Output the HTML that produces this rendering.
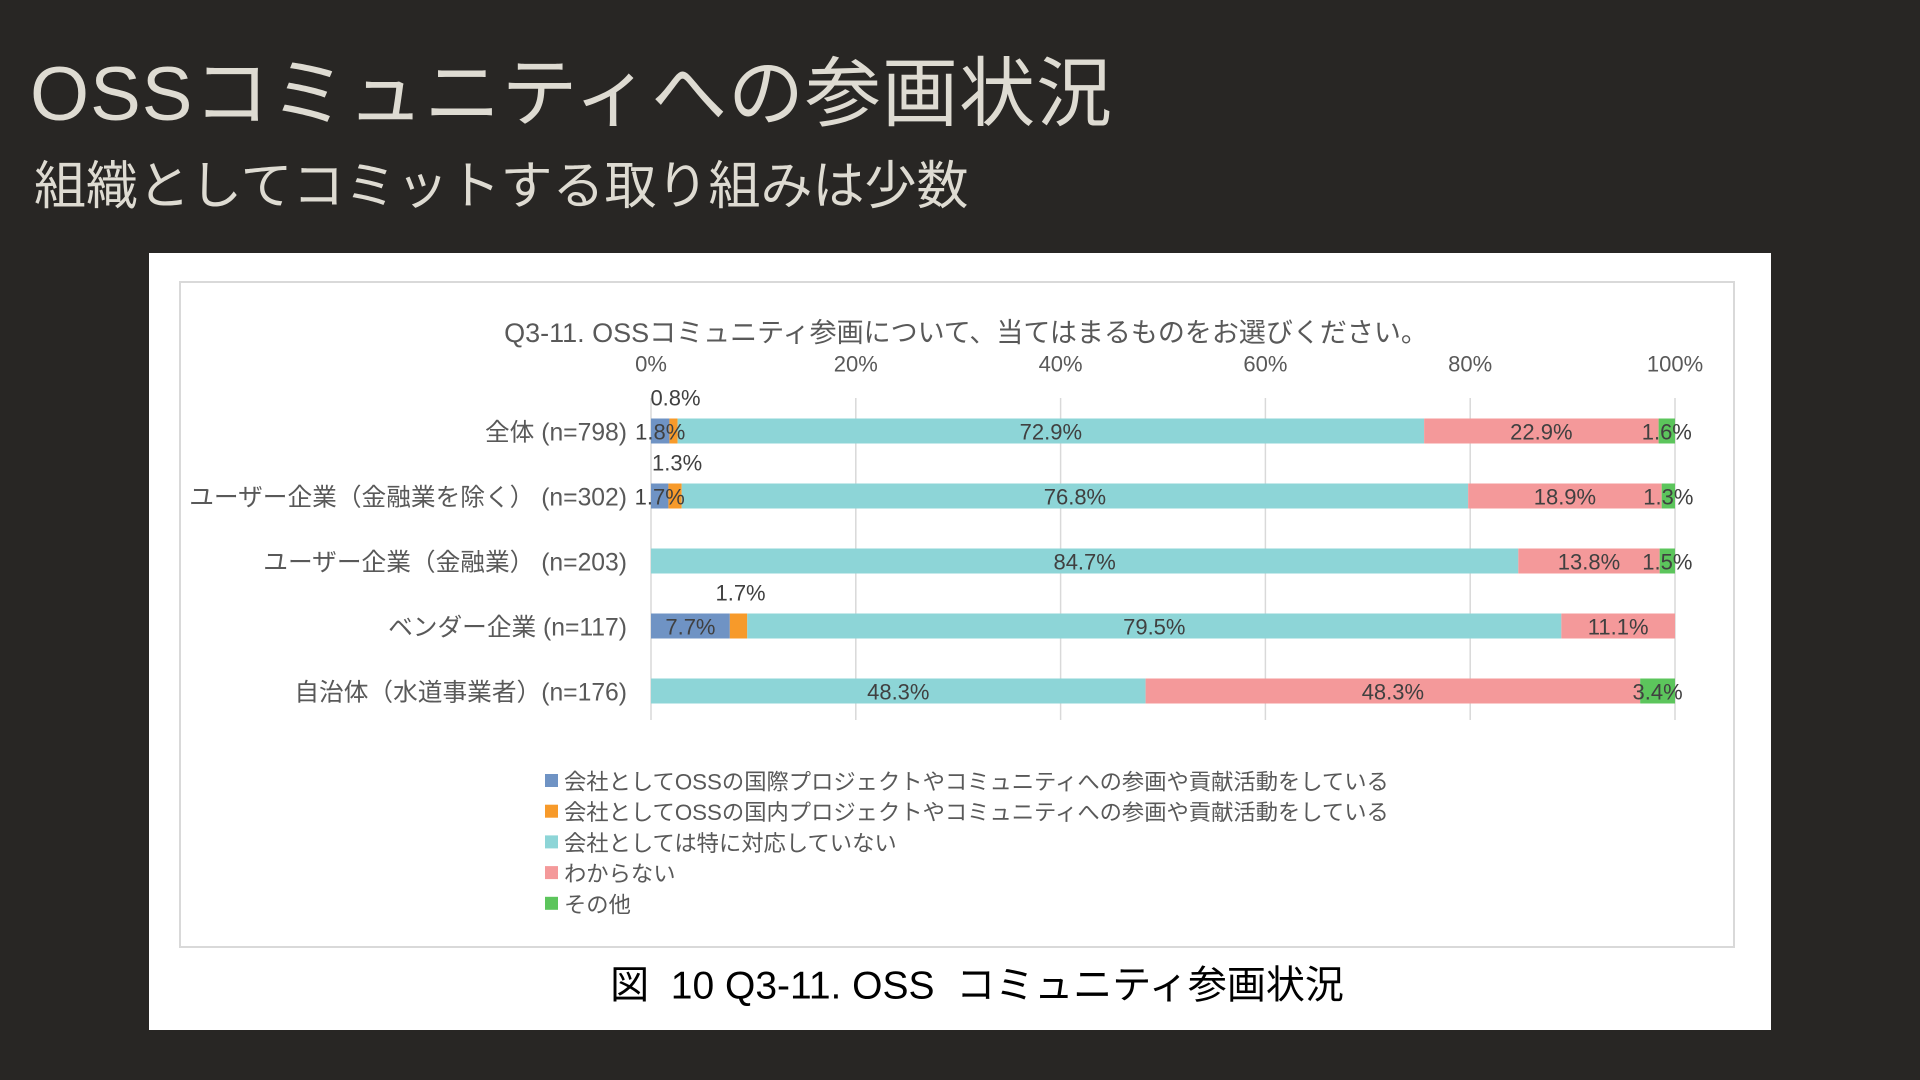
<!DOCTYPE html>
<html><head><meta charset="utf-8">
<style>
body{margin:0;width:1920px;height:1080px;background:#282624;overflow:hidden;font-family:"Liberation Sans","Noto Sans CJK JP",sans-serif;}
#title{position:absolute;left:30px;top:32px;font-size:76px;color:#dedbd2;font-weight:normal;white-space:nowrap;letter-spacing:1px;}
#subtitle{position:absolute;left:34px;top:144px;font-size:52px;color:#dedbd2;white-space:nowrap;}
#card{position:absolute;left:149px;top:253px;width:1622px;height:777px;background:#fff;}
#chart{position:absolute;left:0;top:0;}
</style></head><body>
<div id="title">OSSコミュニティへの参画状況</div>
<div id="subtitle">組織としてコミットする取り組みは少数</div>
<div id="card"></div>
<svg id="chart" width="1920" height="1080"></svg>
<script>
const categories=["全体 (n=798)","ユーザー企業（金融業を除く） (n=302)","ユーザー企業（金融業） (n=203)","ベンダー企業 (n=117)","自治体（水道事業者）(n=176)"];
const seriesNames=["会社としてOSSの国際プロジェクトやコミュニティへの参画や貢献活動をしている","会社としてOSSの国内プロジェクトやコミュニティへの参画や貢献活動をしている","会社としては特に対応していない","わからない","その他"];
const intl=[1.8,1.7,0,7.7,0];
const domestic=[0.8,1.3,0,1.7,0];
const none=[72.9,76.8,84.7,79.5,48.3];
const unknown=[22.9,18.9,13.8,11.1,48.3];
const other=[1.6,1.3,1.5,0,3.4];
const ticks=[0,20,40,60,80,100];
const colors=["#6f93c4","#f79a2a","#8dd5d7","#f4999a","#5cc55c"];
const series=[intl,domestic,none,unknown,other];
const svg=document.getElementById('chart');
const NS="http://www.w3.org/2000/svg";
const x0=651,x1=1675,yTop=398,yBot=720,rowY0=431,rowStep=65,barH=25;
const xs=v=>x0+(x1-x0)*v/100;
const ys=i=>rowY0+i*rowStep;
function mk(tag,attrs){const e=document.createElementNS(NS,tag);for(const k in attrs)e.setAttribute(k,attrs[k]);svg.appendChild(e);return e;}
function txt(s,x,y,size,fill,anchor){const t=mk('text',{x:x,y:y,'font-size':size,fill:fill,'text-anchor':anchor||'middle','dominant-baseline':'central','font-family':'"Liberation Sans","Noto Sans CJK JP",sans-serif'});t.textContent=s;return t;}
let b=mk('rect',{x:180,y:282,width:1554,height:665,fill:'none',stroke:'#d9d9d9','stroke-width':2});

let ct=txt("Q3-11. OSSコミュニティ参画について、当てはまるものをお選びください。",966,333,27,'#595959');

ticks.forEach(v=>{
 const l=mk('line',{x1:xs(v),x2:xs(v),y1:yTop,y2:yBot,stroke:'#d9d9d9','stroke-width':1.5});
 
 const t=txt(v+"%",xs(v),364,22,'#595959');
 
});
const labels=[];
categories.forEach((c,i)=>{
 const t=txt(c,627,ys(i)+2,24.7,'#595959','end');
 
 let acc=0;
 series.forEach((s,k)=>{
  const v=s[i];if(v<=0)return;
  const r=mk('rect',{x:xs(acc),y:ys(i)-barH/2,width:xs(acc+v)-xs(acc),height:barH,fill:colors[k]});
  
  const cx=(xs(acc)+xs(acc+v))/2;
  labels.push([v,k,cx,i]);
  acc+=v;
 });
});
labels.forEach(([v,k,cx,i])=>{
  const lbl=k===1?txt(v.toFixed(1)+"%",cx+2,ys(i)-33,22,'#404040'):txt(v.toFixed(1)+"%",cx,ys(i)+1,22,'#404040');
  
});
seriesNames.forEach((n,k)=>{
 const y=781+k*30.7;
 const r=mk('rect',{x:545,y:y-7,width:13,height:13,fill:colors[k]});
 
 const t=txt(n,564,y+1,22.3,'#595959','start');
 
});
const cap=txt("図  10 Q3-11. OSS  コミュニティ参画状況",977,986,39,'#000');

cap.setAttribute('xml:space','preserve');cap.style.whiteSpace='pre';
</script>
</body></html>
